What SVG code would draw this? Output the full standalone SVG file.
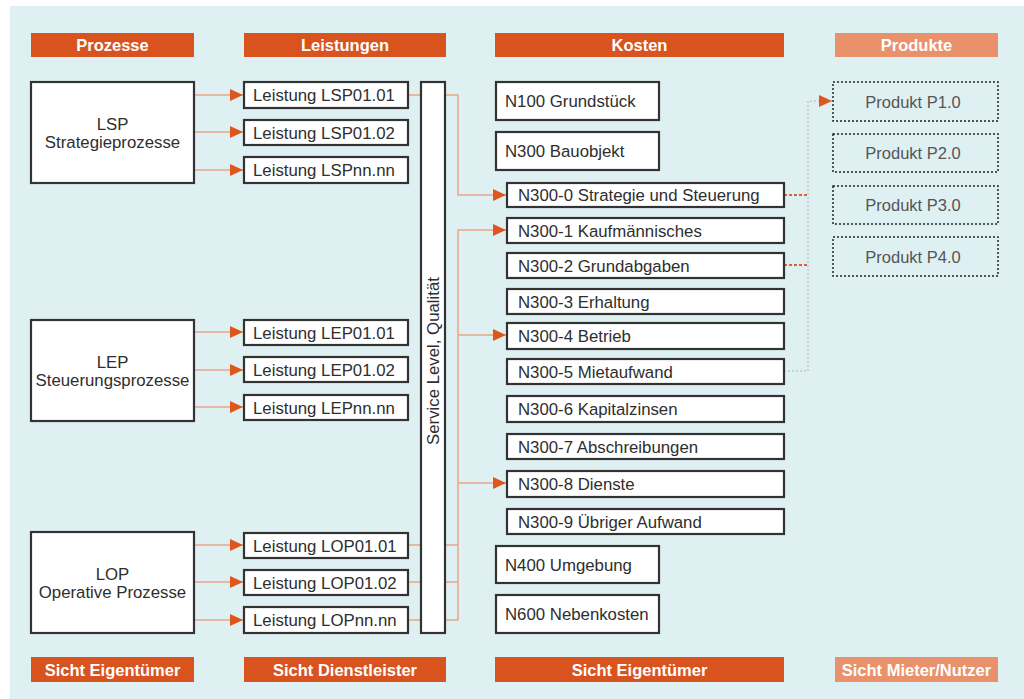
<svg xmlns="http://www.w3.org/2000/svg" width="1024" height="699" viewBox="0 0 1024 699">
<defs>
<marker id="ah" markerUnits="userSpaceOnUse" markerWidth="14" markerHeight="12" refX="13" refY="6" orient="auto">
<path d="M0,0 L13,6 L0,12 Z" fill="#df561d"/>
</marker>
<style>
.hdr{fill:#d9531f}
.hdrl{fill:#e9916b}
.ht{font-family:"Liberation Sans",Arial,sans-serif;font-weight:bold;font-size:16.5px;fill:#fff;text-anchor:middle}
.box{fill:#fff;stroke:#333;stroke-width:2.2}
.t{font-family:"Liberation Sans",Arial,sans-serif;font-size:16.8px;fill:#2e2e2e}
.tc{text-anchor:middle}
.pbox{fill:none;stroke:#222;stroke-width:1.5;stroke-dasharray:2 2}
.pt{font-family:"Liberation Sans",Arial,sans-serif;font-size:16.5px;fill:#555;text-anchor:middle}
.ln{fill:none;stroke:#e8a587;stroke-width:1.5}
.dsh{fill:none;stroke:#e0602a;stroke-width:2;stroke-dasharray:3 2}
.dot{fill:none;stroke:#aab4b6;stroke-width:1;stroke-dasharray:2 2}
</style>
</defs>
<rect x="0" y="0" width="1024" height="699" fill="#fff"/>
<rect x="10" y="6" width="1014" height="693" fill="#dff0f3"/>

<g id="headers">
<rect class="hdr" x="31" y="33" width="163" height="24"/><text class="ht" x="112.5" y="51">Prozesse</text>
<rect class="hdr" x="244" y="33" width="202" height="24"/><text class="ht" x="345" y="51">Leistungen</text>
<rect class="hdr" x="495" y="33" width="289" height="24"/><text class="ht" x="639.5" y="51">Kosten</text>
<rect class="hdrl" x="835" y="33" width="163" height="24"/><text class="ht" x="916.5" y="51">Produkte</text>
</g>
<g id="footers">
<rect class="hdr" x="31" y="657" width="163" height="25"/><text class="ht" x="112.5" y="675.5">Sicht Eigentümer</text>
<rect class="hdr" x="244" y="657" width="202" height="25"/><text class="ht" x="345" y="675.5">Sicht Dienstleister</text>
<rect class="hdr" x="495" y="657" width="289" height="25"/><text class="ht" x="639.5" y="675.5">Sicht Eigentümer</text>
<rect class="hdrl" x="835" y="657" width="163" height="25"/><text class="ht" x="916.5" y="675.5">Sicht Mieter/Nutzer</text>
</g>

<g id="connectors">
<path class="ln" d="M194,95 H243" marker-end="url(#ah)"/>
<path class="ln" d="M194,132 H243" marker-end="url(#ah)"/>
<path class="ln" d="M194,170 H243" marker-end="url(#ah)"/>
<path class="ln" d="M194,332 H243" marker-end="url(#ah)"/>
<path class="ln" d="M194,370 H243" marker-end="url(#ah)"/>
<path class="ln" d="M194,407 H243" marker-end="url(#ah)"/>
<path class="ln" d="M194,545 H243" marker-end="url(#ah)"/>
<path class="ln" d="M194,582 H243" marker-end="url(#ah)"/>
<path class="ln" d="M194,620 H243" marker-end="url(#ah)"/>
<path class="ln" d="M408,95 H421"/>
<path class="ln" d="M408,545 H421"/>
<path class="ln" d="M408,582 H421"/>
<path class="ln" d="M408,620 H421"/>
<path class="ln" d="M445,95 H458 V195 H506" marker-end="url(#ah)"/>
<path class="ln" d="M445,545 H458"/>
<path class="ln" d="M445,582 H458"/>
<path class="ln" d="M445,620 H458 V230 H506" marker-end="url(#ah)"/>
<path class="ln" d="M458,335 H506" marker-end="url(#ah)"/>
<path class="ln" d="M458,483 H506" marker-end="url(#ah)"/>
<path class="dsh" d="M784,195 H808"/>
<path class="dsh" d="M784,265 H808"/>
<path class="dot" d="M784,371 H808 V101 H832"/>
<path d="M808,101 H832" fill="none" stroke="none" marker-end="url(#ah)"/>
</g>

<g id="lsp"><rect class="box" x="31" y="82" width="163" height="101"/><text class="t tc" x="112.5" y="130">LSP</text><text class="t tc" x="112.5" y="148">Strategieprozesse</text></g>
<g id="lep"><rect class="box" x="31" y="320" width="163" height="101"/><text class="t tc" x="112.5" y="368">LEP</text><text class="t tc" x="112.5" y="386">Steuerungsprozesse</text></g>
<g id="lop"><rect class="box" x="31" y="532" width="163" height="101"/><text class="t tc" x="112.5" y="580">LOP</text><text class="t tc" x="112.5" y="598">Operative Prozesse</text></g>

<g id="lsp0101"><rect class="box" x="244" y="82" width="164" height="26"/><text class="t" x="253" y="101">Leistung LSP01.01</text></g>
<g id="lsp0102"><rect class="box" x="244" y="120" width="164" height="25"/><text class="t" x="253" y="138.5">Leistung LSP01.02</text></g>
<g id="lspnn"><rect class="box" x="244" y="157" width="164" height="26"/><text class="t" x="253" y="176">Leistung LSPnn.nn</text></g>
<g id="lep0101"><rect class="box" x="244" y="320" width="164" height="25"/><text class="t" x="253" y="338.5">Leistung LEP01.01</text></g>
<g id="lep0102"><rect class="box" x="244" y="357" width="164" height="25"/><text class="t" x="253" y="375.5">Leistung LEP01.02</text></g>
<g id="lepnn"><rect class="box" x="244" y="395" width="164" height="25"/><text class="t" x="253" y="413.5">Leistung LEPnn.nn</text></g>
<g id="lop0101"><rect class="box" x="244" y="533" width="164" height="25"/><text class="t" x="253" y="551.5">Leistung LOP01.01</text></g>
<g id="lop0102"><rect class="box" x="244" y="570" width="164" height="25"/><text class="t" x="253" y="588.5">Leistung LOP01.02</text></g>
<g id="lopnn"><rect class="box" x="244" y="607" width="164" height="26"/><text class="t" x="253" y="626">Leistung LOPnn.nn</text></g>

<g id="servicelevel"><rect class="box" x="421" y="82" width="24" height="551"/><text class="t tc" transform="translate(439,361) rotate(-90)">Service Level, Qualität</text></g>

<g id="n100"><rect class="box" x="496" y="82" width="163" height="38"/><text class="t" x="505" y="107">N100 Grundstück</text></g>
<g id="n300"><rect class="box" x="496" y="132" width="163" height="38"/><text class="t" x="505" y="157">N300 Bauobjekt</text></g>
<g id="n3000"><rect class="box" x="507" y="183" width="277" height="24"/><text class="t" x="518" y="201">N300-0 Strategie und Steuerung</text></g>
<g id="n3001"><rect class="box" x="507" y="218" width="277" height="25"/><text class="t" x="518" y="236.5">N300-1 Kaufmännisches</text></g>
<g id="n3002"><rect class="box" x="507" y="253" width="277" height="25"/><text class="t" x="518" y="271.5">N300-2 Grundabgaben</text></g>
<g id="n3003"><rect class="box" x="507" y="289" width="277" height="25"/><text class="t" x="518" y="307.5">N300-3 Erhaltung</text></g>
<g id="n3004"><rect class="box" x="507" y="323" width="277" height="26"/><text class="t" x="518" y="342">N300-4 Betrieb</text></g>
<g id="n3005"><rect class="box" x="507" y="359" width="277" height="25"/><text class="t" x="518" y="377.5">N300-5 Mietaufwand</text></g>
<g id="n3006"><rect class="box" x="507" y="396" width="277" height="26"/><text class="t" x="518" y="415">N300-6 Kapitalzinsen</text></g>
<g id="n3007"><rect class="box" x="507" y="434" width="277" height="25"/><text class="t" x="518" y="452.5">N300-7 Abschreibungen</text></g>
<g id="n3008"><rect class="box" x="507" y="471" width="277" height="26"/><text class="t" x="518" y="490">N300-8 Dienste</text></g>
<g id="n3009"><rect class="box" x="507" y="509" width="277" height="25"/><text class="t" x="518" y="527.5">N300-9 Übriger Aufwand</text></g>
<g id="n400"><rect class="box" x="496" y="546" width="163" height="37"/><text class="t" x="505" y="570.5">N400 Umgebung</text></g>
<g id="n600"><rect class="box" x="496" y="595" width="163" height="38"/><text class="t" x="505" y="620">N600 Nebenkosten</text></g>

<g id="p1"><rect class="pbox" x="833" y="82" width="165" height="39"/><text class="pt" x="913" y="107.5">Produkt P1.0</text></g>
<g id="p2"><rect class="pbox" x="833" y="134" width="165" height="38"/><text class="pt" x="913" y="159">Produkt P2.0</text></g>
<g id="p3"><rect class="pbox" x="833" y="186" width="165" height="38"/><text class="pt" x="913" y="211">Produkt P3.0</text></g>
<g id="p4"><rect class="pbox" x="833" y="237" width="165" height="39"/><text class="pt" x="913" y="262.5">Produkt P4.0</text></g>
</svg>
